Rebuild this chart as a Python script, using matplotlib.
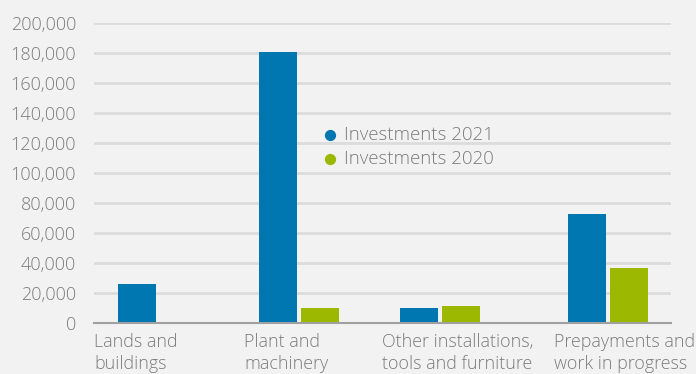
import matplotlib.pyplot as plt
from matplotlib.ticker import FuncFormatter

categories = ["Lands and\nbuildings", "Plant and\nmachinery",
              "Other installations,\ntools and furniture", "Prepayments and\nwork in progress"]
inv_2021 = [26000, 181000, 10000, 73000]
inv_2020 = [0, 10000, 11300, 36700]
series_names = ["Investments 2021", "Investments 2020"]

# layout (axis units, 0..4 across the plot area)
group_x = [0.444, 1.421, 2.399, 3.563]
label_x = [0.0, 1.04, 1.997, 3.19]
bar_w = 0.263
gap = 0.014

blue = "#0077b0"
green = "#9cb800"
grey = "#7b7b7b"
bg = "#f2f2f2"

plt.rcParams['font.family'] = ['Open Sans', 'DejaVu Sans']
plt.rcParams['font.weight'] = 'light'

fig = plt.figure(figsize=(6.96, 3.74), dpi=100, facecolor=bg)
ax = fig.add_axes([94/696, 1-323/374, 577/696, 300/374], facecolor=bg)

xb = [x - gap - bar_w/2 for x in group_x]
xg = [x + gap + bar_w/2 for x in group_x]
ax.bar(xb, inv_2021, width=bar_w, color=blue, zorder=3)
ax.bar(xg, inv_2020, width=bar_w, color=green, zorder=3)

ax.set_xlim(0, 4)
ax.set_ylim(0, 200000)
ax.set_yticks(range(0, 200001, 20000))
ax.yaxis.set_major_formatter(FuncFormatter(lambda v, p: f"{int(v):,}"))
ax.grid(axis='y', color='#dcdcdc', linewidth=2, zorder=0)
ax.tick_params(axis='y', length=0, pad=13, labelsize=13, labelcolor=grey)
ax.set_xticks([])
for s in ['top', 'right', 'left']:
    ax.spines[s].set_visible(False)
ax.spines['bottom'].set_color('#a0a0a0')
ax.spines['bottom'].set_linewidth(1.5)
ax.spines['bottom'].set_zorder(4)

for lx, lab in zip(label_x, categories):
    ax.text(lx, -6500, lab, ha='left', va='top', fontsize=12.9, color=grey,
            linespacing=1.3, transform=ax.transData, clip_on=False)

# legend
for i, (name, c) in enumerate(zip(series_names, [blue, green])):
    y = 125500 - i * 16000
    ax.scatter([1.634], [y], s=50, color=c, zorder=5, clip_on=False)
    ax.text(1.73, y, name, ha='left', va='center', fontsize=13.4, color=grey)

fig.savefig("out.png", dpi=100, facecolor=bg)
